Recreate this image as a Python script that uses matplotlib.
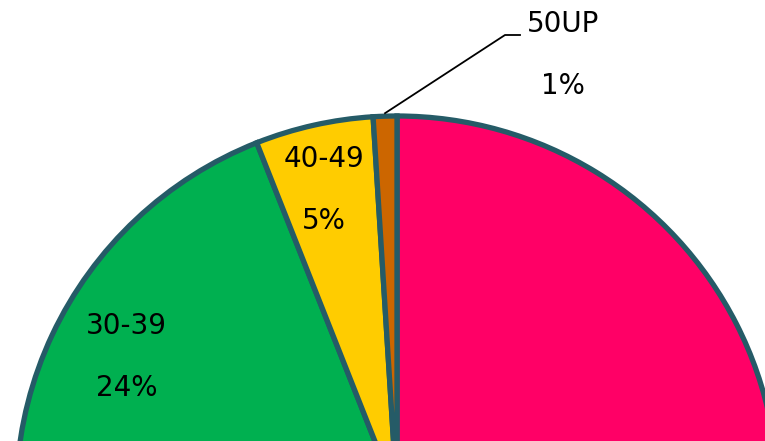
import numpy as np
import matplotlib.pyplot as plt

# age groups, clockwise from 12 o'clock
categories = ["20-29", "30-39", "40-49", "50UP"]
shares = [70, 24, 5, 1]
colors = ["#FF0066", "#00B050", "#FFCC00", "#CC6600"]
edge_color = "#255B67"

fig = plt.figure(figsize=(7.65, 4.41), dpi=100)
ax = fig.add_axes([0, 0, 1, 1])

cx, cy, r = 397, -56, 381
wedges, _ = ax.pie(shares, colors=colors, startangle=90, counterclock=False,
                   center=(cx, cy), radius=r, frame=True,
                   wedgeprops=dict(edgecolor=edge_color, linewidth=3.8))
ax.set_xlim(0, 765)
ax.set_ylim(0, 441)
ax.set_aspect("equal")
ax.axis("off")

# small nudges so labels sit where the original put them
nudge = {"30-39": (9, 9), "40-49": (-6, 6)}

total = sum(shares)
for cat, val, w in zip(categories, shares, wedges):
    mid = np.deg2rad((w.theta1 + w.theta2) / 2)
    pct = f"{val / total * 100:.0f}%"
    if cat == "20-29":
        continue  # its label falls below the visible area
    if cat == "50UP":
        ex, ey = cx + r * np.cos(mid), cy + r * np.sin(mid)
        ax.plot([ex, 505, 520], [ey + 3, 406, 406], color="black", lw=1.3)
        ax.text(563, 386, f"{cat}\n{pct}", ha="center", va="center",
                fontsize=20, linespacing=2.55)
    else:
        d = 0.81 * r
        ox, oy = nudge.get(cat, (0, 0))
        ax.text(cx + d * np.cos(mid) + ox, cy + d * np.sin(mid) + oy,
                f"{cat}\n{pct}", ha="center", va="center",
                fontsize=20, linespacing=2.55)

fig.savefig("out.png", dpi=100)
